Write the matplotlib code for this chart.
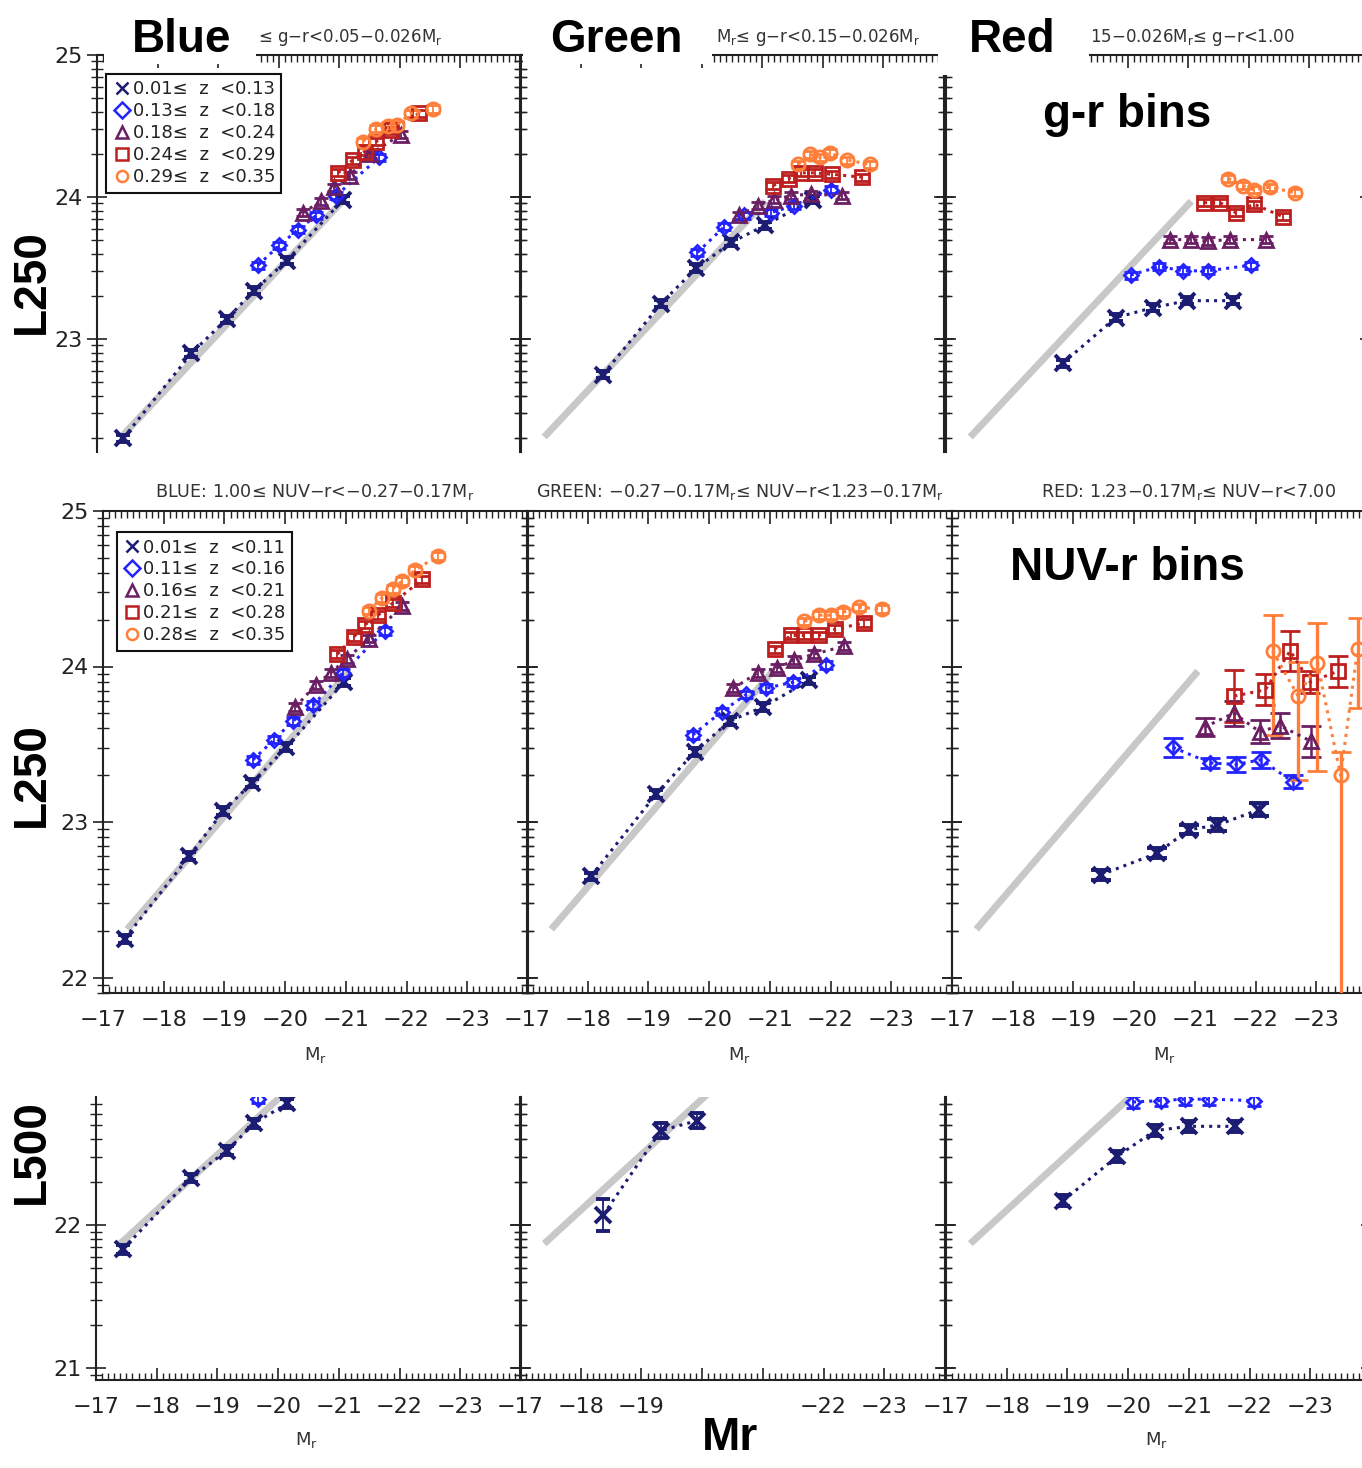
import numpy as np
import matplotlib
matplotlib.use('Agg')
import matplotlib.pyplot as plt
from matplotlib.patches import Rectangle
from matplotlib.lines import Line2D
from matplotlib.ticker import FixedLocator, MultipleLocator, FuncFormatter

W, H = 1362, 1468
plt.rcParams['font.family'] = ['DejaVu Sans']

# colours / markers of the five redshift bins
bin_colors = ['#1c1c72', '#2323ff', '#6a1f62', '#bd1f1f', '#ff7f3a']
bin_markers = ['x', 'D', '^', 's', 'o']
gr_zlabels = ['0.01≤  z  <0.13', '0.13≤  z  <0.18', '0.18≤  z  <0.24', '0.24≤  z  <0.29', '0.29≤  z  <0.35']
nuv_zlabels = ['0.01≤  z  <0.11', '0.11≤  z  <0.16', '0.16≤  z  <0.21', '0.21≤  z  <0.28', '0.28≤  z  <0.35']

# reference line (L ~ luminosity)
gray_mr = [-17.4, -21.05]
gray_l250 = [22.31, 23.97]
gray_l500 = [21.87, 23.29]

# ---- g-r bins, L250 ----
gr_blue_mr = [[-17.43, -18.56, -19.14, -19.59, -20.13, -21.06],
              [-19.66, -20.01, -20.32, -20.62, -20.95, -21.66],
              [-20.40, -20.70, -20.92, -21.17, -21.50, -22.02],
              [-20.98, -21.22, -21.42, -21.61, -21.86, -22.32],
              [-21.39, -21.61, -21.80, -21.96, -22.18, -22.54]]
gr_blue_l = [[22.30, 22.90, 23.14, 23.34, 23.55, 23.98],
             [23.52, 23.66, 23.77, 23.87, 24.01, 24.28],
             [23.89, 23.97, 24.07, 24.15, 24.30, 24.44],
             [24.17, 24.26, 24.32, 24.39, 24.47, 24.59],
             [24.39, 24.48, 24.50, 24.51, 24.59, 24.62]]

gr_green_mr = [[-18.37, -19.33, -19.91, -20.49, -21.04, -21.83],
               [-19.93, -20.37, -20.70, -21.14, -21.53, -22.13],
               [-20.62, -20.93, -21.20, -21.47, -21.81, -22.32],
               [-21.18, -21.44, -21.64, -21.87, -22.15, -22.64],
               [-21.59, -21.79, -21.96, -22.12, -22.40, -22.78]]
gr_green_l = [[22.75, 23.25, 23.50, 23.68, 23.80, 23.98],
              [23.61, 23.79, 23.87, 23.89, 23.94, 24.05],
              [23.87, 23.94, 23.98, 24.01, 24.02, 24.01],
              [24.08, 24.13, 24.17, 24.17, 24.16, 24.14],
              [24.23, 24.30, 24.28, 24.31, 24.26, 24.23]]

gr_red_mr = [[-18.93, -19.80, -20.41, -20.98, -21.74],
             [-20.05, -20.52, -20.92, -21.32, -22.04],
             [-20.70, -21.04, -21.33, -21.69, -22.29],
             [-21.26, -21.53, -21.78, -22.08, -22.57],
             [-21.66, -21.91, -22.08, -22.35, -22.76]]
gr_red_l = [[22.83, 23.15, 23.22, 23.27, 23.27],
            [23.45, 23.51, 23.48, 23.48, 23.52],
            [23.70, 23.70, 23.69, 23.70, 23.70],
            [23.96, 23.96, 23.89, 23.95, 23.86],
            [24.13, 24.08, 24.05, 24.07, 24.03]]

# ---- NUV-r bins, L250 ----
nuv_blue_mr = [[-17.36, -18.42, -18.98, -19.45, -20.02, -20.97],
               [-19.47, -19.82, -20.13, -20.46, -20.95, -21.64],
               [-20.17, -20.50, -20.75, -21.02, -21.38, -21.93],
               [-20.86, -21.13, -21.32, -21.53, -21.78, -22.26],
               [-21.38, -21.59, -21.77, -21.93, -22.14, -22.51]]
nuv_blue_l = [[22.25, 22.78, 23.07, 23.25, 23.48, 23.90],
              [23.40, 23.53, 23.65, 23.75, 23.96, 24.23],
              [23.74, 23.88, 23.96, 24.05, 24.18, 24.39],
              [24.08, 24.19, 24.27, 24.33, 24.41, 24.56],
              [24.36, 24.44, 24.50, 24.55, 24.62, 24.71]]

nuv_green_mr = [[-18.05, -19.13, -19.76, -20.34, -20.89, -21.65],
                [-19.73, -20.21, -20.61, -20.94, -21.38, -21.93],
                [-20.40, -20.80, -21.11, -21.40, -21.73, -22.22],
                [-21.08, -21.34, -21.56, -21.81, -22.08, -22.55],
                [-21.57, -21.81, -22.00, -22.21, -22.47, -22.85]]
nuv_green_l = [[22.65, 23.18, 23.45, 23.65, 23.74, 23.91],
               [23.56, 23.71, 23.82, 23.86, 23.90, 24.01],
               [23.86, 23.96, 23.99, 24.04, 24.08, 24.13],
               [24.11, 24.20, 24.20, 24.20, 24.24, 24.28],
               [24.29, 24.33, 24.33, 24.35, 24.38, 24.37]]

nuv_red_mr = [[-19.45, -20.38, -20.90, -21.37, -22.06],
              [-20.64, -21.25, -21.67, -22.09, -22.61],
              [-21.16, -21.64, -22.07, -22.40, -22.91],
              [-21.65, -22.16, -22.57, -22.90, -23.36],
              [-22.28, -22.70, -23.02, -23.40, -23.68]]
nuv_red_l = [[22.66, 22.80, 22.95, 22.98, 23.08],
             [23.48, 23.38, 23.37, 23.40, 23.26],
             [23.61, 23.70, 23.58, 23.62, 23.52],
             [23.81, 23.85, 24.10, 23.90, 23.97],
             [24.10, 23.81, 24.02, 23.30, 24.11]]
nuv_red_err_lo = [[0.03, 0.03, 0.03, 0.04, 0.04],
                  [0.06, 0.03, 0.05, 0.05, 0.04],
                  [0.06, 0.08, 0.075, 0.08, 0.10],
                  [0.17, 0.10, 0.13, 0.07, 0.10],
                  [0.54, 0.54, 0.69, 2.00, 0.38]]
nuv_red_err_hi = [[0.03, 0.03, 0.03, 0.04, 0.04],
                  [0.06, 0.03, 0.05, 0.05, 0.04],
                  [0.06, 0.08, 0.075, 0.08, 0.10],
                  [0.17, 0.10, 0.13, 0.07, 0.10],
                  [0.23, 0.22, 0.26, 0.15, 0.20]]

# ---- L500 (lowest redshift bins visible only) ----
l500_blue_mr = [[-17.44, -18.57, -19.16, -19.60, -20.15], [-19.67]]
l500_blue_l = [[21.83, 22.33, 22.52, 22.71, 22.85], [22.88]]
l500_green_mr = [[-18.37, -19.32, -19.92]]
l500_green_l = [[22.07, 22.66, 22.73]]
l500_green_err = [[0.11, 0.05, 0.05]]
l500_red_mr = [[-18.93, -19.82, -20.44, -21.00, -21.76],
               [-20.08, -20.54, -20.94, -21.33, -22.07]]
l500_red_l = [[22.17, 22.48, 22.66, 22.69, 22.69],
              [22.86, 22.87, 22.88, 22.88, 22.87]]

err_small = 0.025

# visible (uncovered) parts of the g-r panel titles
gr_titles = ['≤ g−r<0.05−0.026M$_\\mathregular{r}$',
             'M$_\\mathregular{r}$≤ g−r<0.15−0.026M$_\\mathregular{r}$',
             '15−0.026M$_\\mathregular{r}$≤ g−r<1.00']
nuv_titles = ['BLUE: 1.00≤ NUV−r<−0.27−0.17M$_\\mathregular{r}$',
              'GREEN: −0.27−0.17M$_\\mathregular{r}$≤ NUV−r<1.23−0.17M$_\\mathregular{r}$',
              'RED: 1.23−0.17M$_\\mathregular{r}$≤ NUV−r<7.00']

fig = plt.figure(figsize=(W / 100, H / 100), dpi=100)


def px_axes(left, top, width, height):
    return fig.add_axes([left / W, 1 - (top + height) / H, width / W, height / H])


def xfmt(v, pos):
    if v < -23.5 or v > -16.5:
        return ''
    return '−%d' % round(-v)


def xfmt_hidden(v, pos):
    # -20 and -21 are hidden behind the big "Mr" label
    if -21.5 < v < -19.5:
        return ''
    return xfmt(v, pos)


log_minor = [m + np.log10(k) for m in range(20, 26) for k in range(2, 10)]


def style(ax, ylim, ymajors, ylabels, xlabels, top=True, bottom=True):
    ax.set_xlim(-17, -24)
    ax.set_ylim(*ylim)
    ax.xaxis.set_major_locator(MultipleLocator(1))
    ax.xaxis.set_minor_locator(MultipleLocator(0.1))
    ax.xaxis.set_major_formatter(FuncFormatter(xfmt))
    ax.yaxis.set_major_locator(FixedLocator(ymajors))
    ax.yaxis.set_minor_locator(FixedLocator(log_minor))
    ax.yaxis.set_major_formatter(FuncFormatter(lambda v, p: '%d' % round(v)))
    ax.tick_params(axis='x', which='both', direction='in', top=top, bottom=bottom,
                   labelbottom=xlabels, labelsize=16, pad=12, colors='#222222')
    ax.tick_params(axis='x', which='major', length=9, width=1.2)
    ax.tick_params(axis='x', which='minor', length=5, width=1)
    ax.tick_params(axis='y', which='both', direction='inout', left=True, right=True,
                   labelleft=ylabels, labelsize=16, pad=3, colors='#222222')
    ax.tick_params(axis='y', which='major', length=14, width=1.2)
    ax.tick_params(axis='y', which='minor', length=8, width=1)
    for s in ax.spines.values():
        s.set_linewidth(1.5)
        s.set_color('#222222')
    ax.spines['top'].set_visible(top)
    ax.spines['bottom'].set_visible(bottom)
    ax.set_facecolor('none')


def draw_series(ax, mr, l, i, yerr, elw=1.3, cap=5):
    c = bin_colors[i]
    ms = 11 if i == 0 else (7.5 if i == 1 else 9.5)
    ax.errorbar(mr, l, yerr=yerr, color=c, ls=':', lw=2.2, marker=bin_markers[i],
                ms=ms, mfc='none', mec=c, mew=2.8 if i == 0 else 2.0,
                elinewidth=elw, capsize=cap, capthick=elw, zorder=3)


def add_legend(ax, labels, anchor):
    handles = [Line2D([], [], color=bin_colors[i], marker=bin_markers[i], ls='none',
                      mfc='none', mew=1.8, ms=8) for i in range(5)]
    leg = ax.legend(handles, labels, loc='upper left', bbox_to_anchor=anchor,
                    fontsize=13, frameon=True, fancybox=False, edgecolor='#111111',
                    framealpha=1, borderpad=0.35, handletextpad=0.1, labelspacing=0.22,
                    handlelength=1.0, borderaxespad=0)
    leg.get_frame().set_linewidth(1.5)
    for t in leg.get_texts():
        t.set_color('#222222')


# ---------------- top row: g-r bins ----------------
gr_lefts = [97, 520, 946]
gr_sets = [(gr_blue_mr, gr_blue_l), (gr_green_mr, gr_green_l), (gr_red_mr, gr_red_l)]
gr_title_left = [258, 716, 1090]
for k in range(3):
    ax = px_axes(gr_lefts[k], 55, 424, 397)
    style(ax, (25 - 397 / 142, 25), [23, 24, 25], k == 0, False, top=True, bottom=False)
    ax.plot(gray_mr, gray_l250, color='#c8c8c8', lw=5, solid_capstyle='butt', zorder=1)
    mrs, ls_ = gr_sets[k]
    for i in range(len(mrs)):
        draw_series(ax, mrs[i], ls_[i], i, err_small)
    fig.text(gr_title_left[k] / W, 1 - 37 / H, gr_titles[k], ha='left', va='center',
             fontsize=12, color='#333333')
    if k == 0:
        add_legend(ax, gr_zlabels, (0.022, 0.952))

# ---------------- middle row: NUV-r bins ----------------
nuv_lefts = [103, 527, 952]
nuv_sets = [(nuv_blue_mr, nuv_blue_l), (nuv_green_mr, nuv_green_l)]
nuv_title_x = [315, 740, 1188]
for k in range(3):
    ax = px_axes(nuv_lefts[k], 511, 425, 482)
    style(ax, (25 - 482 / 155.5, 25), [22, 23, 24, 25], k == 0, True)
    ax.plot(gray_mr, gray_l250, color='#c8c8c8', lw=5, solid_capstyle='butt', zorder=1)
    if k < 2:
        mrs, ls_ = nuv_sets[k]
        for i in range(5):
            draw_series(ax, mrs[i], ls_[i], i, err_small)
    else:
        for i in range(5):
            draw_series(ax, nuv_red_mr[i], nuv_red_l[i], i,
                        [nuv_red_err_lo[i], nuv_red_err_hi[i]],
                        elw=2.4 if i == 4 else 1.8, cap=7)
    fig.text(nuv_title_x[k] / W, 1 - 492 / H, nuv_titles[k], ha='center', va='center',
             fontsize=12.6, color='#333333')
    fig.text((nuv_lefts[k] + 212) / W, 1 - 1055 / H, 'M$_\\mathregular{r}$', ha='center',
             va='center', fontsize=13, color='#333333')
    if k == 0:
        add_legend(ax, nuv_zlabels, (0.033, 0.956))

# ---------------- bottom row: L500 ----------------
l5_lefts = [96, 520, 946]
for k in range(3):
    ax = px_axes(l5_lefts[k], 1097, 425, 283)
    style(ax, (22 - 155 / 143, 22 + 128 / 143), [21, 22], k == 0, True, top=False, bottom=True)
    ax.plot(gray_mr, gray_l500, color='#c8c8c8', lw=5, solid_capstyle='butt', zorder=1)
    if k == 0:
        for i in range(2):
            draw_series(ax, l500_blue_mr[i], l500_blue_l[i], i, 0.03)
    elif k == 1:
        ax.xaxis.set_major_formatter(FuncFormatter(xfmt_hidden))
        draw_series(ax, l500_green_mr[0], l500_green_l[0], 0, l500_green_err[0])
    else:
        for i in range(2):
            draw_series(ax, l500_red_mr[i], l500_red_l[i], i, 0.04)
    if k != 1:
        fig.text((l5_lefts[k] + 210) / W, 1 - 1440 / H, 'M$_\\mathregular{r}$', ha='center',
                 va='center', fontsize=13, color='#333333')


# ---------------- collage labels ----------------
def cover(x0, y0, x1, y1):
    fig.add_artist(Rectangle((x0 / W, 1 - y1 / H), (x1 - x0) / W, (y1 - y0) / H,
                             transform=fig.transFigure, facecolor='white',
                             edgecolor='none', zorder=10))


def big(x, y, s, rot=0):
    fig.text(x / W, 1 - y / H, s, ha='center', va='center', rotation=rot,
             fontsize=33, fontweight='bold', family='Liberation Sans', zorder=11)


cover(104, 0, 256, 64)
cover(523, 0, 712, 64)
cover(938, 0, 1089, 75)
big(182, 40, 'Blue')
big(616, 40, 'Green')
big(1012, 40, 'Red')
big(1127, 115, 'g-r bins')
big(1127, 568, 'NUV-r bins')
big(32, 282, 'L250', 90)
big(32, 775, 'L250', 90)
big(32, 1152, 'L500', 90)
big(730, 1438, 'Mr')

plt.savefig('out.png', dpi=100)
